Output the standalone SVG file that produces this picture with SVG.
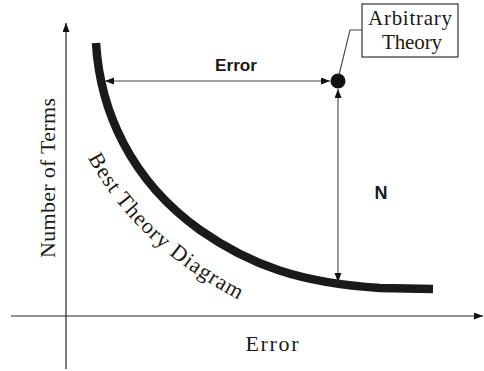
<svg xmlns="http://www.w3.org/2000/svg" width="484" height="371" viewBox="0 0 484 371">
<style>
.serif{font-family:"Liberation Serif","Times New Roman",serif;fill:#1a1a1a}
.sans{font-family:"Liberation Sans",Arial,sans-serif;font-weight:bold;fill:#1a1a1a}
.ax{stroke:#222;stroke-width:1.2;fill:none}
.con{stroke:#444;stroke-width:1.1;fill:none}
</style>
<defs>
<marker id="ah" markerUnits="userSpaceOnUse" markerWidth="10" markerHeight="8" refX="9" refY="3.5" orient="auto-start-reverse" viewBox="0 0 10 8">
<path d="M0,0 L9,3.5 L0,7 z" fill="#111"/>
</marker>
<path id="tp" d="M88,158 C108,195 150,255 245,303"/>
</defs>
<rect width="484" height="371" fill="#fff"/>
<g id="axes">
<line class="ax" x1="66" y1="369" x2="66" y2="23" marker-end="url(#ah)"/>
<line class="ax" x1="11" y1="316" x2="483" y2="316" marker-end="url(#ah)"/>
<text class="serif" font-size="22" text-anchor="middle" transform="translate(54.5,178) rotate(-90)" textLength="160" lengthAdjust="spacing">Number of Terms</text>
<text class="serif" font-size="22" x="272" y="351" text-anchor="middle" textLength="53">Error</text>
</g>
<g id="best-theory-curve">
<path d="M96,43 C100,110 130,180 200,230 C250,265 300,283 380,288 L433,289" fill="none" stroke="#1a1a1a" stroke-width="8.5"/>
<text class="serif" font-size="22"><textPath href="#tp" textLength="210" lengthAdjust="spacing">Best Theory Diagram</textPath></text>
</g>
<g id="arbitrary-theory-point">
<circle cx="338" cy="81" r="7.5" fill="#111"/>
</g>
<g id="arbitrary-theory-label">
<rect x="362" y="4" width="96" height="53" fill="#fff" stroke="#333" stroke-width="1.2"/>
<text class="serif" font-size="21" x="410" y="25" text-anchor="middle" textLength="84">Arbitrary</text>
<text class="serif" font-size="21" x="412" y="48.5" text-anchor="middle" textLength="60">Theory</text>
</g>
<g id="connectors">
<line class="con" x1="105" y1="81" x2="330" y2="81" marker-start="url(#ah)" marker-end="url(#ah)"/>
<line class="con" x1="338" y1="89" x2="338" y2="282" marker-start="url(#ah)" marker-end="url(#ah)"/>
<polyline class="con" points="339,75 350,30 362,30"/>
<text class="sans" font-size="17" x="236" y="70.5" text-anchor="middle" textLength="42" lengthAdjust="spacingAndGlyphs">Error</text>
<text class="sans" font-size="18" x="381" y="199" text-anchor="middle">N</text>
</g>
</svg>
